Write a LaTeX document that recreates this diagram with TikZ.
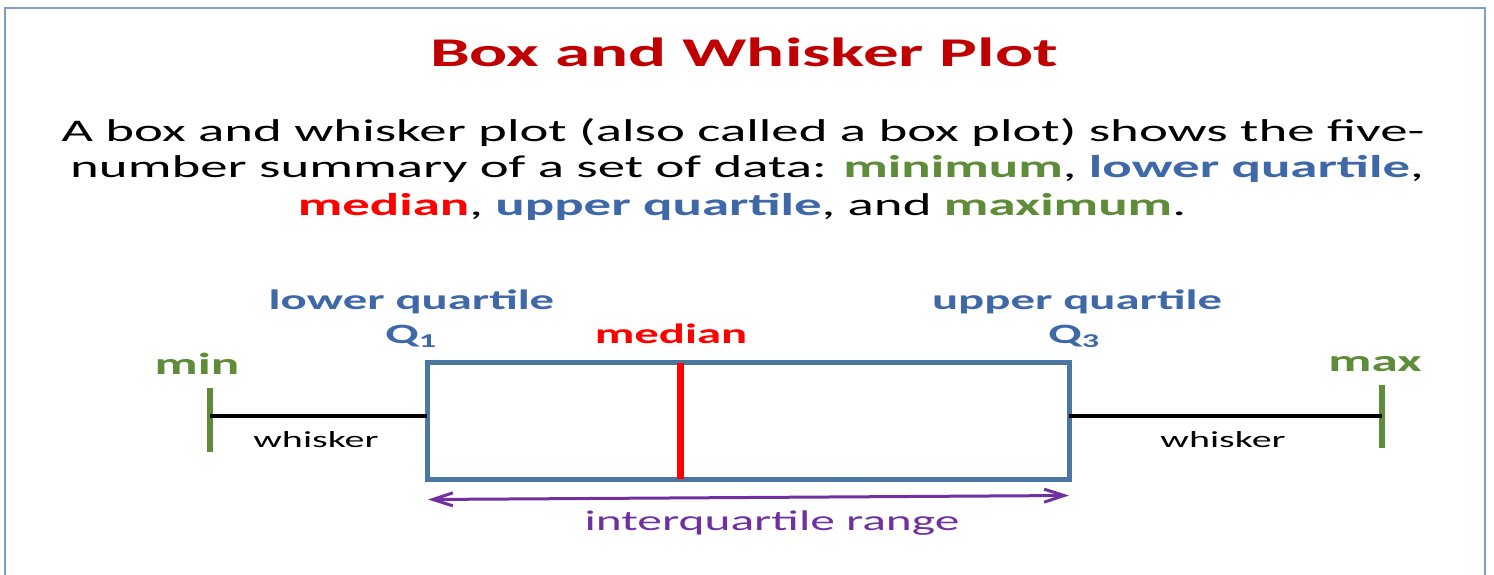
\documentclass[tikz,border=0pt]{standalone}
\usepackage{fontspec}
\setmainfont{Carlito}[FakeStretch=1.74]
\usetikzlibrary{arrows.meta}

\definecolor{titlered}{HTML}{C00000}
\definecolor{medred}{HTML}{FF0000}
\definecolor{qblue}{HTML}{3F68A8}
\definecolor{boxblue}{HTML}{4A76A2}
\definecolor{olive}{HTML}{5E8C38}
\definecolor{iqr}{HTML}{7030A0}
\definecolor{framecol}{HTML}{7E9FC9}

\newcommand{\fs}[1]{\fontsize{#1}{#1}\selectfont}

\begin{document}
\begin{tikzpicture}[x=1pt, y=-1pt,
  txt/.style={inner sep=0pt, outer sep=0pt, anchor=base},
  lbl/.style={txt, font=\fs{28}\bfseries},
  wlabel/.style={txt, font=\fs{23}},
  whiskerline/.style={line width=4pt, black},
  endtick/.style={line width=6pt, olive},
  iqrarrow/.style={line width=3pt, iqr, {Straight Barb[length=20pt, width=13pt]}-{Straight Barb[length=20pt, width=13pt]}},
]
\clip (0,0) rectangle (1494,575);
\fill[white] (0,0) rectangle (1494,575);

% slide frame (bottom edge lies below the visible area)
\draw[framecol, line width=2.5pt] (5,590) -- (5,8) -- (1485,8) -- (1485,590);

% heading and explanation
\node[txt, font=\fs{40.8}\bfseries, text=titlered] (title) at (744,67) {Box and Whisker Plot};
\node[txt, font=\fs{31.5}] (line1) at (743,142)
  {A box and whisker plot (also called a box plot) shows the five-};
\node[txt, font=\fs{31.5}] (line2) at (747,178)
  {number summary of a set of data: \textbf{\color{olive}minimum}, \textbf{\color{qblue}lower quartile},};
\node[txt, font=\fs{31.5}] (line3) at (742,215)
  {\textbf{\color{medred}median}, \textbf{\color{qblue}upper quartile}, and \textbf{\color{olive}maximum}.};

% the box from Q1 to Q3
\node[draw=boxblue, line width=5pt, minimum width=642pt, minimum height=117pt,
      inner sep=0pt, outer sep=0pt] (box) at (748,420.75) {};

% median, ends and whiskers
\coordinate (medtop) at (680,363);
\coordinate (minpt) at (210,416);
\coordinate (maxpt) at (1382,416);
\draw[medred, line width=7pt] (medtop) -- (medtop |- box.south);
\draw[endtick] (210,388) -- (210,452);
\draw[endtick] (1382,385) -- (1382,448);
\draw[whiskerline] (minpt) -- (minpt -| box.west);
\draw[whiskerline] (maxpt -| box.east) -- (maxpt);

% interquartile range arrow
\coordinate (iqrL) at (428,499.5);
\coordinate (iqrR) at (1069,495.5);
\draw[iqrarrow] (iqrL) -- (iqrR);

% labels
\node[lbl, text=qblue] (lq) at (411.5,309) {lower quartile};
\node[lbl, text=qblue] (q1) at (411,343) {Q\textsubscript{1}};
\node[lbl, text=qblue] (uq) at (1077,309) {upper quartile};
\node[lbl, text=qblue] (q3) at (1074,343) {Q\textsubscript{3}};
\node[lbl, text=medred] (med) at (671,343) {median};
\node[lbl, font=\fs{30.5}\bfseries, text=olive] (minl) at (197,374) {min};
\node[lbl, font=\fs{30.5}\bfseries, text=olive] (maxl) at (1375,371) {max};
\node[wlabel] (wl) at (316,447) {whisker};
\node[wlabel] (wr) at (1223,447) {whisker};
\node[txt, font=\fs{28.4}, text=iqr] (iqrl) at (772,530) {interquartile range};
\end{tikzpicture}
\end{document}
